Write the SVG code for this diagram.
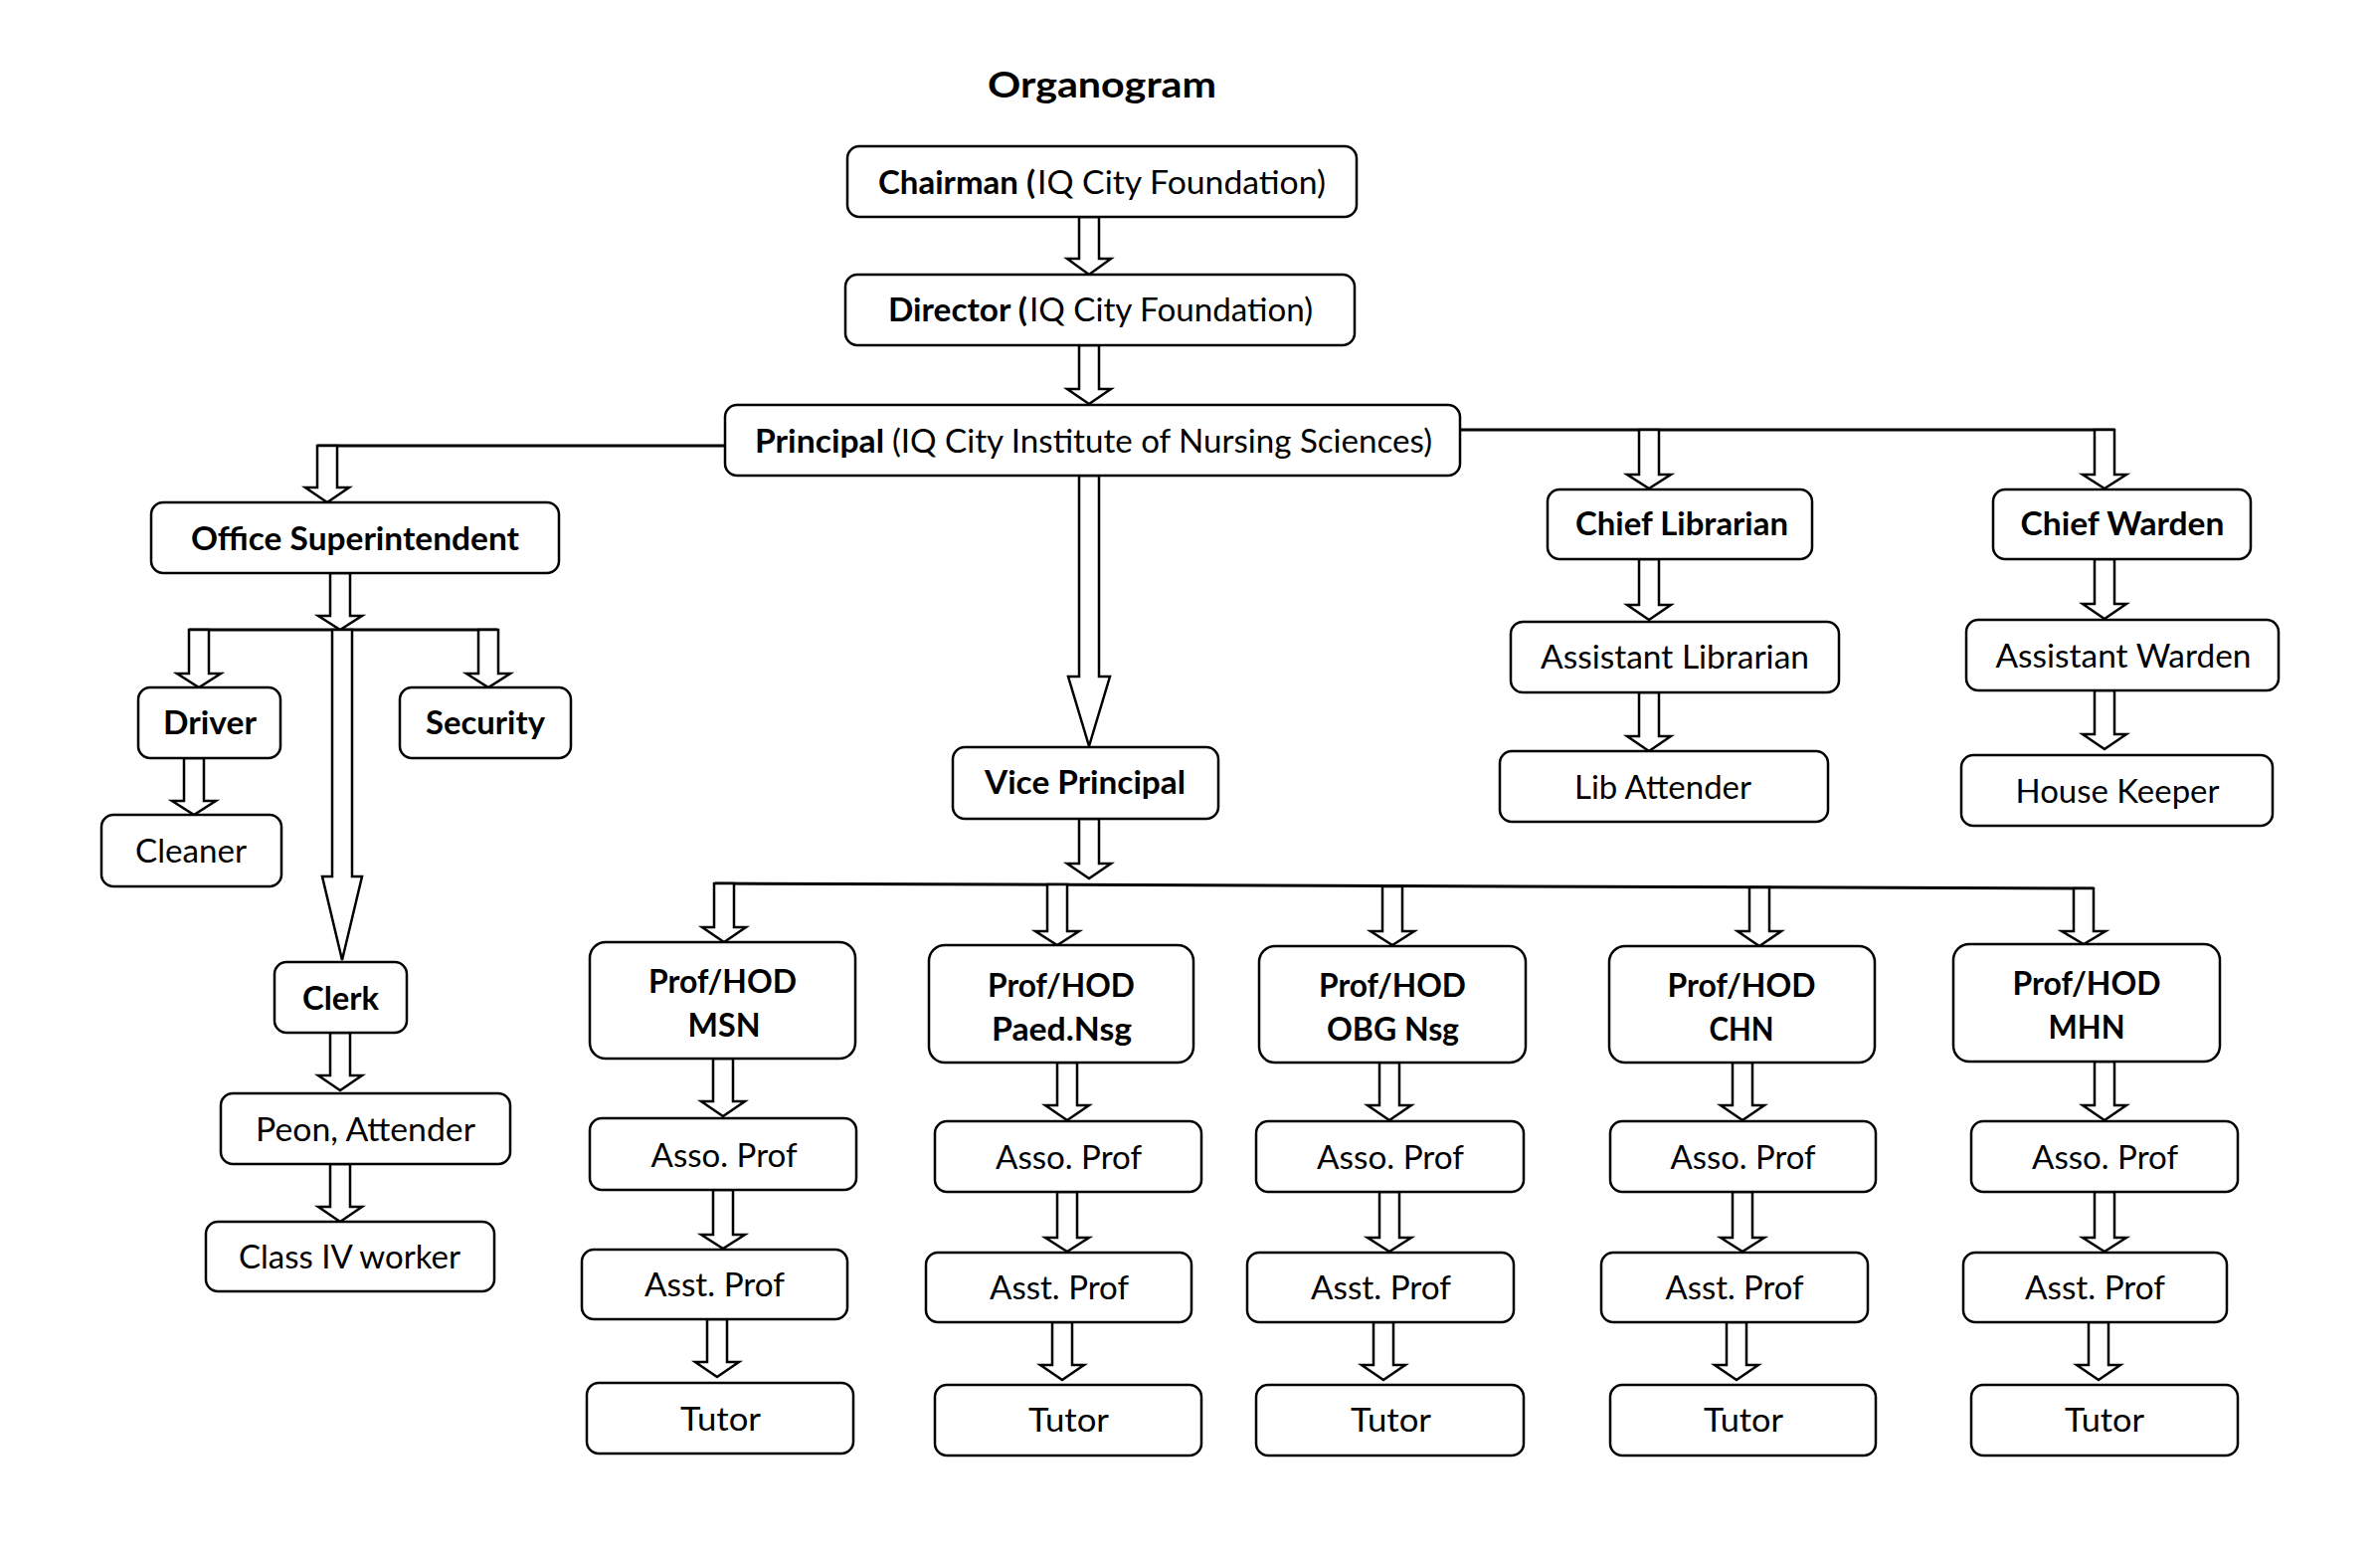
<svg xmlns="http://www.w3.org/2000/svg" width="2393" height="1563" viewBox="0 0 2393 1563">
<style>
.box{fill:#fff;stroke:#000;stroke-width:2.5}
.arr{fill:#fff;stroke:#000;stroke-width:2.5;stroke-linejoin:miter}
.ln{fill:none;stroke:#000;stroke-width:3}
text{font-family:Lato,"Liberation Sans",sans-serif;font-size:32px;fill:#000}
.c{text-anchor:middle}
.b{font-weight:bold}
</style>
<rect width="2393" height="1563" fill="#fff"/>
<text id="title" class="c b" x="1108" y="98" style="font-size:36px" textLength="230" lengthAdjust="spacingAndGlyphs">Organogram</text>

<g id="connectors">
<path class="ln" d="M729,448 H319"/>
<path class="ln" d="M1468,432 H2126"/>
<path class="ln" d="M190,633 H500"/>
<path class="ln" d="M719,888 L2105,893"/>
<path class="arr" d="M1085,218 H1105 V260 H1117 L1095,276 L1073,260 H1085 Z"/>
<path class="arr" d="M1085,347 H1105 V391 H1117 L1095,406 L1073,391 H1085 Z"/>
<path class="arr" d="M1085,478 H1105 V680 H1116 L1095,750 L1074,680 H1085 Z"/>
<path class="arr" d="M319,448 H339 V490 H351 L329,505 L307,490 H319 Z"/>
<path class="arr" d="M1648,432 H1668 V477 H1680 L1658,491 L1636,477 H1648 Z"/>
<path class="arr" d="M2106,432 H2126 V477 H2138 L2116,491 L2094,477 H2106 Z"/>
<path class="arr" d="M332,576 H352 V619 H364 L342,633 L320,619 H332 Z"/>
<path class="arr" d="M190,633 H210 V677 H222 L200,691 L178,677 H190 Z"/>
<path class="arr" d="M481,633 H501 V677 H513 L491,691 L469,677 H481 Z"/>
<path class="arr" d="M334,633 H354 V881 H364 L344,965 L324,881 H334 Z"/>
<path class="arr" d="M185,762 H205 V805 H217 L195,819 L173,805 H185 Z"/>
<path class="arr" d="M332,1038 H352 V1081 H364 L342,1096 L320,1081 H332 Z"/>
<path class="arr" d="M332,1170 H352 V1213 H364 L342,1228 L320,1213 H332 Z"/>
<path class="arr" d="M1648,562 H1668 V608 H1680 L1658,623 L1636,608 H1648 Z"/>
<path class="arr" d="M1648,696 H1668 V740 H1680 L1658,755 L1636,740 H1648 Z"/>
<path class="arr" d="M2106,562 H2126 V607 H2138 L2116,622 L2094,607 H2106 Z"/>
<path class="arr" d="M2106,694 H2126 V738 H2138 L2116,753 L2094,738 H2106 Z"/>
<path class="arr" d="M1085,823 H1105 V868 H1117 L1095,883 L1073,868 H1085 Z"/>
<path class="arr" d="M718,888 H738 V932 H750 L728,947 L706,932 H718 Z"/>
<path class="arr" d="M717,1064 H737 V1107 H749 L727,1122 L705,1107 H717 Z"/>
<path class="arr" d="M717,1196 H737 V1241 H749 L727,1255 L705,1241 H717 Z"/>
<path class="arr" d="M711,1326 H731 V1369 H743 L721,1384 L699,1369 H711 Z"/>
<path class="arr" d="M1053,889 H1073 V936 H1085 L1063,950 L1041,936 H1053 Z"/>
<path class="arr" d="M1063,1068 H1083 V1111 H1095 L1073,1126 L1051,1111 H1063 Z"/>
<path class="arr" d="M1063,1198 H1083 V1244 H1095 L1073,1258 L1051,1244 H1063 Z"/>
<path class="arr" d="M1058,1329 H1078 V1372 H1090 L1068,1387 L1046,1372 H1058 Z"/>
<path class="arr" d="M1390,891 H1410 V936 H1422 L1400,950 L1378,936 H1390 Z"/>
<path class="arr" d="M1387,1068 H1407 V1111 H1419 L1397,1126 L1375,1111 H1387 Z"/>
<path class="arr" d="M1387,1198 H1407 V1244 H1419 L1397,1258 L1375,1244 H1387 Z"/>
<path class="arr" d="M1381,1329 H1401 V1372 H1413 L1391,1387 L1369,1372 H1381 Z"/>
<path class="arr" d="M1759,892 H1779 V936 H1791 L1769,951 L1747,936 H1759 Z"/>
<path class="arr" d="M1742,1068 H1762 V1111 H1774 L1752,1126 L1730,1111 H1742 Z"/>
<path class="arr" d="M1742,1198 H1762 V1244 H1774 L1752,1258 L1730,1244 H1742 Z"/>
<path class="arr" d="M1736,1329 H1756 V1372 H1768 L1746,1387 L1724,1372 H1736 Z"/>
<path class="arr" d="M2085,893 H2105 V936 H2117 L2095,949 L2073,936 H2085 Z"/>
<path class="arr" d="M2106,1067 H2126 V1111 H2138 L2116,1126 L2094,1111 H2106 Z"/>
<path class="arr" d="M2106,1198 H2126 V1244 H2138 L2116,1258 L2094,1244 H2106 Z"/>
<path class="arr" d="M2100,1329 H2120 V1372 H2132 L2110,1387 L2088,1372 H2100 Z"/>
</g>

<g id="chairman"><rect class="box" x="852" y="147" width="512" height="71" rx="12"/>
<text y="195"><tspan class="b" x="883" textLength="158" lengthAdjust="spacingAndGlyphs">Chairman (</tspan><tspan x="1043" textLength="290" lengthAdjust="spacingAndGlyphs">IQ City Foundation)</tspan></text></g>
<g id="director"><rect class="box" x="850" y="276" width="512" height="71" rx="12"/>
<text y="323"><tspan class="b" x="893" textLength="140" lengthAdjust="spacingAndGlyphs">Director (</tspan><tspan x="1035" textLength="285" lengthAdjust="spacingAndGlyphs">IQ City Foundation)</tspan></text></g>
<g id="principal"><rect class="box" x="729" y="407" width="739" height="71" rx="12"/>
<text y="455"><tspan class="b" x="759" textLength="130" lengthAdjust="spacingAndGlyphs">Principal</tspan><tspan x="897" textLength="543" lengthAdjust="spacingAndGlyphs">(IQ City Institute of Nursing Sciences)</tspan></text></g>

<g id="office-superintendent"><rect class="box" x="152" y="505" width="410" height="71" rx="12"/>
<text class="c b" x="357" y="553" textLength="330" lengthAdjust="spacingAndGlyphs">Office Superintendent</text></g>
<g id="driver"><rect class="box" x="139" y="691" width="143" height="71" rx="12"/>
<text class="c b" x="211" y="738" textLength="94" lengthAdjust="spacingAndGlyphs">Driver</text></g>
<g id="security"><rect class="box" x="402" y="691" width="172" height="71" rx="12"/>
<text class="c b" x="488" y="738" textLength="120" lengthAdjust="spacingAndGlyphs">Security</text></g>
<g id="cleaner"><rect class="box" x="102" y="819" width="181" height="72" rx="12"/>
<text class="c" x="192" y="867" textLength="112" lengthAdjust="spacingAndGlyphs">Cleaner</text></g>
<g id="clerk"><rect class="box" x="276" y="967" width="133" height="71" rx="12"/>
<text class="c b" x="342.5" y="1015" textLength="77" lengthAdjust="spacingAndGlyphs">Clerk</text></g>
<g id="peon"><rect class="box" x="222" y="1099" width="291" height="71" rx="12"/>
<text class="c" x="367.5" y="1147" textLength="221" lengthAdjust="spacingAndGlyphs">Peon, Attender</text></g>
<g id="class4"><rect class="box" x="207" y="1228" width="290" height="70" rx="12"/>
<text class="c" x="351.5" y="1275" textLength="223" lengthAdjust="spacingAndGlyphs">Class IV worker</text></g>

<g id="chief-librarian"><rect class="box" x="1556" y="492" width="266" height="70" rx="12"/>
<text class="c b" x="1691" y="538" textLength="214" lengthAdjust="spacingAndGlyphs">Chief Librarian</text></g>
<g id="assistant-librarian"><rect class="box" x="1519" y="625" width="330" height="71" rx="12"/>
<text class="c" x="1684" y="672" textLength="270" lengthAdjust="spacingAndGlyphs">Assistant Librarian</text></g>
<g id="lib-attender"><rect class="box" x="1508" y="755" width="330" height="71" rx="12"/>
<text class="c" x="1672" y="803" textLength="178" lengthAdjust="spacingAndGlyphs">Lib Attender</text></g>
<g id="chief-warden"><rect class="box" x="2004" y="492" width="259" height="70" rx="12"/>
<text class="c b" x="2134" y="538" textLength="205" lengthAdjust="spacingAndGlyphs">Chief Warden</text></g>
<g id="assistant-warden"><rect class="box" x="1977" y="623" width="314" height="71" rx="12"/>
<text class="c" x="2135" y="671" textLength="257" lengthAdjust="spacingAndGlyphs">Assistant Warden</text></g>
<g id="house-keeper"><rect class="box" x="1972" y="759" width="313" height="71" rx="12"/>
<text class="c" x="2129" y="807" textLength="205" lengthAdjust="spacingAndGlyphs">House Keeper</text></g>

<g id="vice-principal"><rect class="box" x="958" y="751" width="267" height="72" rx="12"/>
<text class="c b" x="1091" y="798" textLength="202" lengthAdjust="spacingAndGlyphs">Vice Principal</text></g>

<g id="hod-msn"><rect class="box" x="593" y="947" width="267" height="117" rx="16"/>
<text class="c b" x="726.5" y="998" textLength="149" lengthAdjust="spacingAndGlyphs">Prof/HOD</text>
<text class="c b" x="728" y="1042" textLength="73" lengthAdjust="spacingAndGlyphs">MSN</text></g>
<g id="asso-msn"><rect class="box" x="593" y="1124" width="268" height="72" rx="12"/>
<text class="c" x="728" y="1173" textLength="147" lengthAdjust="spacingAndGlyphs">Asso. Prof</text></g>
<g id="asst-msn"><rect class="box" x="585" y="1256" width="267" height="70" rx="12"/>
<text class="c" x="718.5" y="1303" textLength="141" lengthAdjust="spacingAndGlyphs">Asst. Prof</text></g>
<g id="tutor-msn"><rect class="box" x="590" y="1390" width="268" height="71" rx="12"/>
<text class="c" x="724.5" y="1438" textLength="81" lengthAdjust="spacingAndGlyphs">Tutor</text></g>

<g id="hod-paed"><rect class="box" x="934" y="950" width="266" height="118" rx="16"/>
<text class="c b" x="1067" y="1002" textLength="148" lengthAdjust="spacingAndGlyphs">Prof/HOD</text>
<text class="c b" x="1067.5" y="1046" textLength="141" lengthAdjust="spacingAndGlyphs">Paed.Nsg</text></g>
<g id="asso-paed"><rect class="box" x="940" y="1127" width="268" height="71" rx="12"/>
<text class="c" x="1074.5" y="1175" textLength="147" lengthAdjust="spacingAndGlyphs">Asso. Prof</text></g>
<g id="asst-paed"><rect class="box" x="931" y="1259" width="267" height="70" rx="12"/>
<text class="c" x="1065" y="1306" textLength="140" lengthAdjust="spacingAndGlyphs">Asst. Prof</text></g>
<g id="tutor-paed"><rect class="box" x="940" y="1392" width="268" height="71" rx="12"/>
<text class="c" x="1074.5" y="1439" textLength="81" lengthAdjust="spacingAndGlyphs">Tutor</text></g>

<g id="hod-obg"><rect class="box" x="1266" y="951" width="268" height="117" rx="16"/>
<text class="c b" x="1400" y="1002" textLength="148" lengthAdjust="spacingAndGlyphs">Prof/HOD</text>
<text class="c b" x="1400.5" y="1046" textLength="133" lengthAdjust="spacingAndGlyphs">OBG Nsg</text></g>
<g id="asso-obg"><rect class="box" x="1263" y="1127" width="269" height="71" rx="12"/>
<text class="c" x="1398" y="1175" textLength="148" lengthAdjust="spacingAndGlyphs">Asso. Prof</text></g>
<g id="asst-obg"><rect class="box" x="1254" y="1259" width="268" height="70" rx="12"/>
<text class="c" x="1388.5" y="1306" textLength="141" lengthAdjust="spacingAndGlyphs">Asst. Prof</text></g>
<g id="tutor-obg"><rect class="box" x="1263" y="1392" width="269" height="71" rx="12"/>
<text class="c" x="1398.5" y="1439" textLength="81" lengthAdjust="spacingAndGlyphs">Tutor</text></g>

<g id="hod-chn"><rect class="box" x="1618" y="951" width="267" height="117" rx="16"/>
<text class="c b" x="1751" y="1002" textLength="149" lengthAdjust="spacingAndGlyphs">Prof/HOD</text>
<text class="c b" x="1751" y="1046" textLength="65" lengthAdjust="spacingAndGlyphs">CHN</text></g>
<g id="asso-chn"><rect class="box" x="1619" y="1127" width="267" height="71" rx="12"/>
<text class="c" x="1752.5" y="1175" textLength="146" lengthAdjust="spacingAndGlyphs">Asso. Prof</text></g>
<g id="asst-chn"><rect class="box" x="1610" y="1259" width="268" height="70" rx="12"/>
<text class="c" x="1744" y="1306" textLength="139" lengthAdjust="spacingAndGlyphs">Asst. Prof</text></g>
<g id="tutor-chn"><rect class="box" x="1619" y="1392" width="267" height="71" rx="12"/>
<text class="c" x="1753" y="1439" textLength="80" lengthAdjust="spacingAndGlyphs">Tutor</text></g>

<g id="hod-mhn"><rect class="box" x="1964" y="949" width="268" height="118" rx="16"/>
<text class="c b" x="2098" y="1000" textLength="149" lengthAdjust="spacingAndGlyphs">Prof/HOD</text>
<text class="c b" x="2098" y="1044" textLength="77" lengthAdjust="spacingAndGlyphs">MHN</text></g>
<g id="asso-mhn"><rect class="box" x="1982" y="1127" width="268" height="71" rx="12"/>
<text class="c" x="2116.5" y="1175" textLength="147" lengthAdjust="spacingAndGlyphs">Asso. Prof</text></g>
<g id="asst-mhn"><rect class="box" x="1974" y="1259" width="265" height="70" rx="12"/>
<text class="c" x="2106.5" y="1306" textLength="141" lengthAdjust="spacingAndGlyphs">Asst. Prof</text></g>
<g id="tutor-mhn"><rect class="box" x="1982" y="1392" width="268" height="71" rx="12"/>
<text class="c" x="2116" y="1439" textLength="80" lengthAdjust="spacingAndGlyphs">Tutor</text></g>
</svg>
